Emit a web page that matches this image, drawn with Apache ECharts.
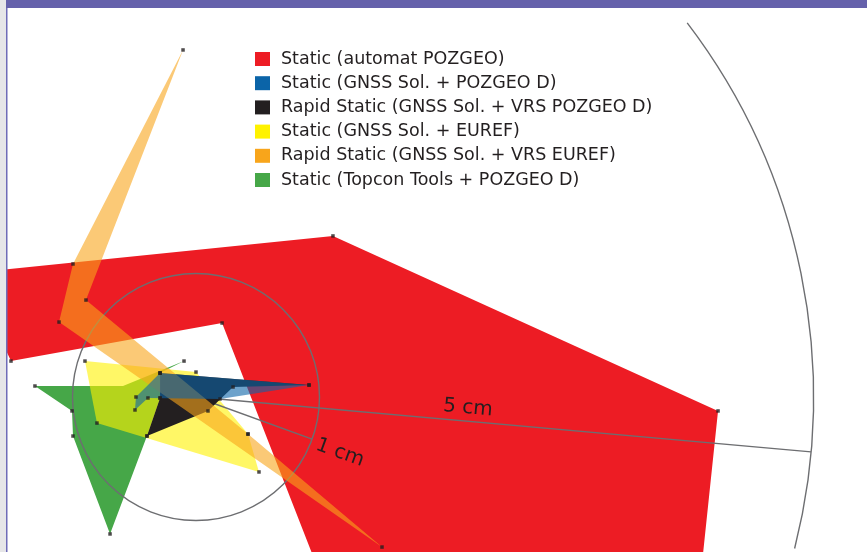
<!DOCTYPE html>
<html><head><meta charset="utf-8">
<script src="https://cdn.jsdelivr.net/npm/echarts@6/dist/echarts.min.js"></script>
<style>html,body{margin:0;padding:0;background:#fff}#c{width:867px;height:552px}</style>
</head><body><div id="c"></div>
<script>
// Legend names (in legend order)
const seriesNames = [
  'Static (automat POZGEO)',
  'Static (GNSS Sol. + POZGEO D)',
  'Rapid Static (GNSS Sol. + VRS POZGEO D)',
  'Static (GNSS Sol. + EUREF)',
  'Rapid Static (GNSS Sol. + VRS EUREF)',
  'Static (Topcon Tools + POZGEO D)'
];
const seriesColors = ['#ed1c24', '#0b64a8', '#231f20', '#fff200', '#f8a51b', '#46a748'];

// Polygon vertices, in mm (east, north) relative to the reference point.
// third value 0 = corner without a measured-point marker
const redPts    = [[-18.30,10.04],[11.09,13.04],[42.27,-1.13],[40.49,-18.06],[11.50,-18.06],[2.11,5.99],[-14.98,2.91]];
const bluePts   = [[-2.91,1.94],[9.15,0.97],[1.94,-0.16],[-3.89,-0.08],[-4.94,-1.05],[-4.86,0.00]];
const blackPts  = [[-2.91,1.94],[9.15,0.97],[3.00,0.81],[0.97,-1.13],[-3.97,-3.16],[-2.91,-0.08]];
const yellowPts = [[-8.99,2.91],[0.00,2.02],[4.21,-3.00],[5.10,-6.07],[-8.02,-2.11]];
const orangePts = [[-1.05,28.10],[-9.96,10.77],[-11.09,6.07],[15.06,-12.15],[4.21,-3.00],[-8.91,7.85]];
const greenPts  = [[-13.04,0.89],[-5.91,0.89,0],[-0.97,2.91],[-2.91,1.94],[-2.91,-0.08],[-3.97,-3.16],[-6.96,-11.09],[-9.96,-3.16],[-10.04,-1.13]];

// Scale rings (mm) and labels
const ringRadii = [10, 50];
const ringLabels = ['1 cm', '5 cm'];

const PX = 12.35, CX = 196, CY = 397, W = 867, H = 552;
const FONT = 'DejaVu Sans';

function polySeries(idx, pts, opacity, z) {
  return {
    type: 'custom', name: seriesNames[idx], z: z, silent: true,
    itemStyle: { color: seriesColors[idx] },
    data: pts.map(p => [p[0], p[1]]),
    encode: { x: 0, y: 1 },
    renderItem: function (params, api) {
      if (params.dataIndex !== 0) return;
      const points = pts.map(p => api.coord([p[0], p[1]]));
      return { type: 'polygon', shape: { points: points },
        style: { fill: seriesColors[idx], opacity: opacity } };
    }
  };
}

const deg = Math.PI / 180;
const ringSeries = {
  type: 'custom', z: 3, silent: true,
  data: [[0, 0]], encode: { x: 0, y: 1 },
  renderItem: function (params, api) {
    const c = api.coord([0, 0]);
    const r1 = api.size([ringRadii[0], 0])[0];
    const r5 = api.size([ringRadii[1], 0])[0];
    const a1 = 19.9 * deg, a5 = 5.1 * deg;
    const ls = { stroke: '#6d6e71', lineWidth: 1.4, fill: null };
    return { type: 'group', children: [
      { type: 'circle', shape: { cx: c[0], cy: c[1], r: r1 }, style: ls },
      { type: 'arc', shape: { cx: c[0], cy: c[1], r: r5, startAngle: -37.3 * deg, endAngle: 14.2 * deg, clockwise: true }, style: ls },
      { type: 'line', shape: { x1: c[0], y1: c[1], x2: c[0] + r1 * Math.cos(a1), y2: c[1] + r1 * Math.sin(a1) }, style: ls },
      { type: 'line', shape: { x1: c[0], y1: c[1], x2: c[0] + r5 * Math.cos(a5), y2: c[1] + r5 * Math.sin(a5) }, style: ls },
      { type: 'text', x: c[0] + 1.25 * r1 * Math.cos(21.2 * deg), y: c[1] + 1.25 * r1 * Math.sin(21.2 * deg), rotation: -20 * deg,
        style: { text: ringLabels[0], fontSize: 20, fontFamily: FONT, fill: '#231f20', align: 'center', verticalAlign: 'middle' } },
      { type: 'text', x: c[0] + 272, y: c[1] + 11, rotation: -5.1 * deg,
        style: { text: ringLabels[1], fontSize: 20, fontFamily: FONT, fill: '#231f20', align: 'center', verticalAlign: 'middle' } }
    ]};
  }
};

const allPts = [].concat(redPts, bluePts, blackPts, yellowPts, orangePts, greenPts)
  .filter(p => p[2] !== 0).map(p => [p[0], p[1]]);

const chart = echarts.init(document.getElementById('c'), null, { renderer: 'canvas' });
chart.setOption({
  animation: false,
  backgroundColor: '#ffffff',
  grid: { left: 0, right: 0, top: 0, bottom: 0 },
  xAxis: { type: 'value', min: -CX / PX, max: (W - CX) / PX, show: false },
  yAxis: { type: 'value', min: -(H - CY) / PX, max: CY / PX, show: false },
  legend: {
    orient: 'vertical', left: 255, top: 50, padding: 0, itemWidth: 15, itemHeight: 14, itemGap: 6.2,
    icon: 'rect', selectedMode: false,
    textStyle: { fontSize: 17.5, lineHeight: 17, fontFamily: FONT, color: '#231f20', padding: [0, 0, 0, 6] },
    data: seriesNames.map((n, i) => ({ name: n, itemStyle: { color: seriesColors[i], opacity: 1 } }))
  },
  series: [
    polySeries(0, redPts, 1, 1),
    polySeries(5, greenPts, 1, 2),
    polySeries(3, yellowPts, 0.6, 2),
    ringSeries,
    polySeries(2, blackPts, 1, 4),
    polySeries(4, orangePts, 0.6, 4),
    polySeries(1, bluePts, 0.6, 4),
    { type: 'scatter', z: 6, silent: true, symbol: 'rect', symbolSize: 3.5,
      itemStyle: { color: '#231f20' }, data: allPts }
  ],
  graphic: [
    { type: 'rect', z: 100, shape: { x: 0, y: 0, width: 6, height: H }, style: { fill: '#e6e6e8' } },
    { type: 'rect', z: 100, shape: { x: 6, y: 0, width: 1.5, height: H }, style: { fill: '#6f6cb8' } },
    { type: 'rect', z: 100, shape: { x: 6, y: 0, width: W - 6, height: 8 }, style: { fill: '#6561ab' } }
  ]
});
</script></body></html>
